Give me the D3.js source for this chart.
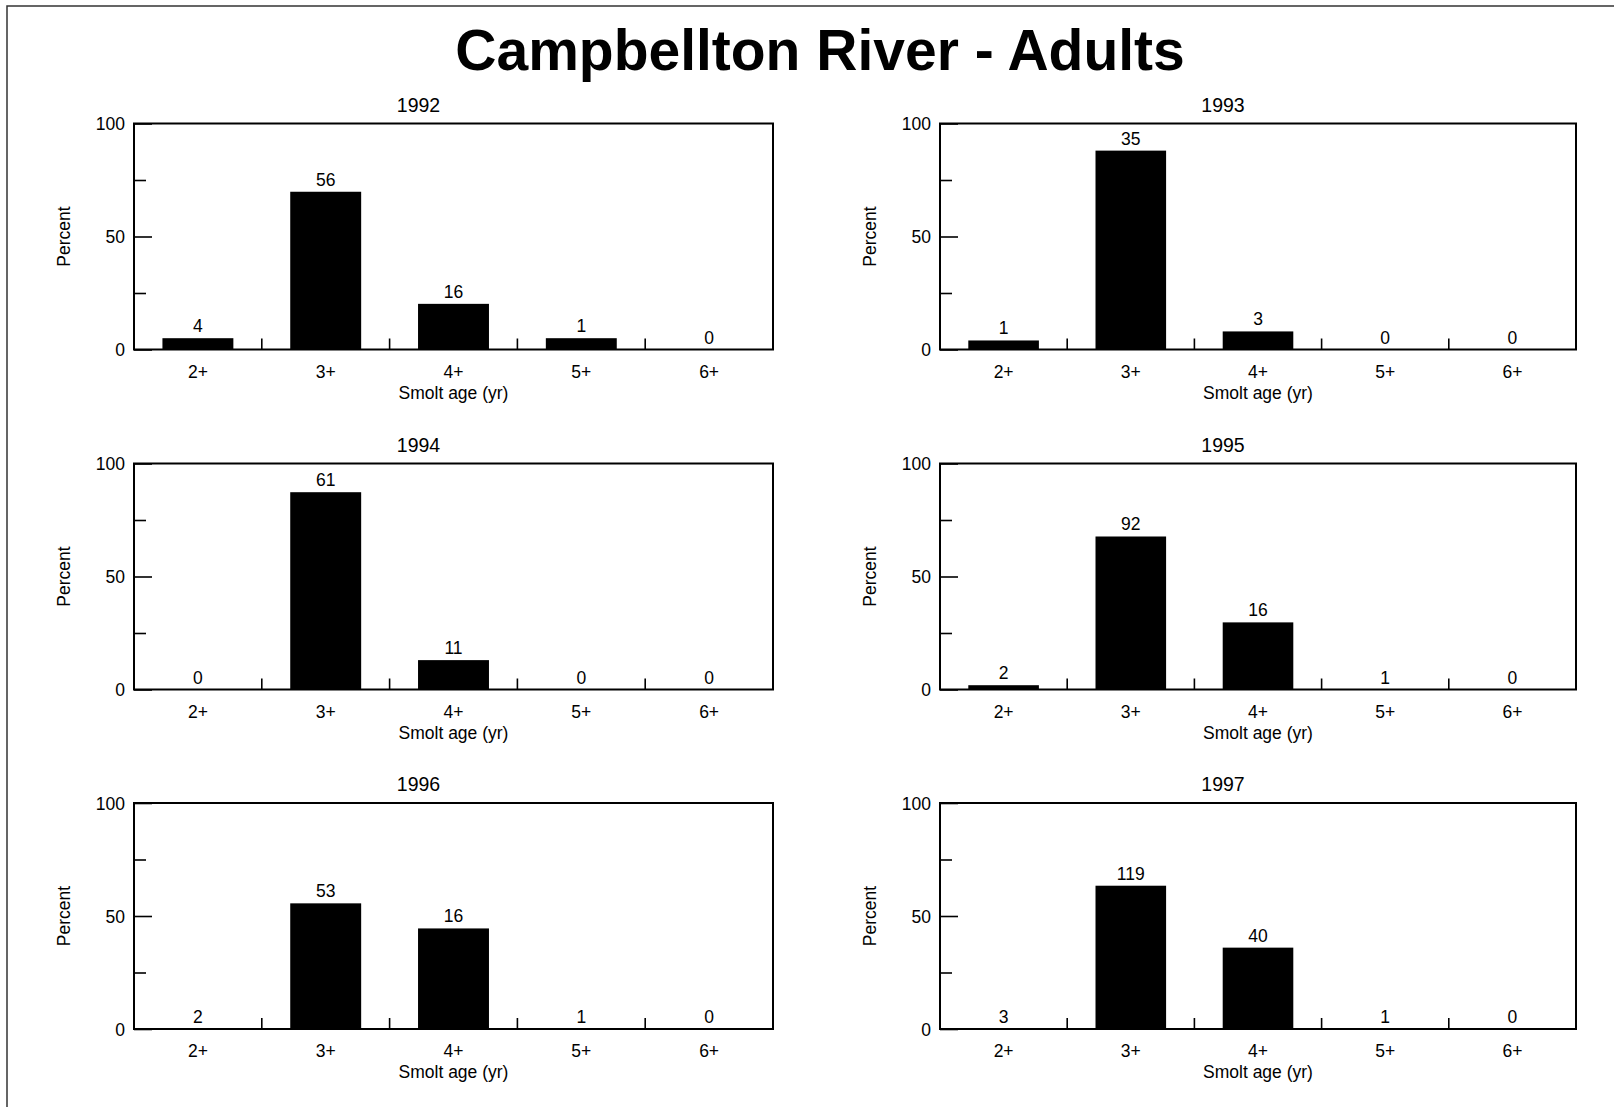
<!DOCTYPE html>
<html>
<head>
<meta charset="utf-8">
<script src="https://cdn.jsdelivr.net/npm/d3@7"></script>
<style>
  html, body { margin: 0; padding: 0; background: #fff; }
  svg { display: block; }
  text { font-family: "Liberation Sans", Arial, Helvetica, sans-serif; fill: #000; }
</style>
</head>
<body>
<svg id="chart" width="1614" height="1107"></svg>
<script>
// Smolt age classes on the x axis
const categories = ["2+", "3+", "4+", "5+", "6+"];
const years = ["1992", "1993", "1994", "1995", "1996", "1997"];

// Percent of adults in each smolt-age class, per year
const pct1992 = [5, 69.8, 20.2, 5, 0];
const pct1993 = [4, 88, 8, 0, 0];
const pct1994 = [0, 87.3, 13, 0, 0];
const pct1995 = [1.9, 67.7, 29.7, 0, 0];
const pct1996 = [0, 55.6, 44.5, 0, 0];
const pct1997 = [0, 63.4, 36, 0, 0];

// Sample counts printed above each class
const n1992 = [4, 56, 16, 1, 0];
const n1993 = [1, 35, 3, 0, 0];
const n1994 = [0, 61, 11, 0, 0];
const n1995 = [2, 92, 16, 1, 0];
const n1996 = [2, 53, 16, 1, 0];
const n1997 = [3, 119, 40, 1, 0];

// Y axis ticks
const yMajorTicks = [0, 50, 100];
const yMinorTicks = [25, 75];

const chartTitle = "Campbellton River - Adults";
const xTitle = "Smolt age (yr)";
const yTitle = "Percent";

const panels = [
  { year: years[0], pct: pct1992, n: n1992 },
  { year: years[1], pct: pct1993, n: n1993 },
  { year: years[2], pct: pct1994, n: n1994 },
  { year: years[3], pct: pct1995, n: n1995 },
  { year: years[4], pct: pct1996, n: n1996 },
  { year: years[5], pct: pct1997, n: n1997 }
];

const svg = d3.select("#chart");

// page frame (left and top edges visible)
svg.append("rect")
  .attr("x", 7).attr("y", 6)
  .attr("width", 1640).attr("height", 1140)
  .attr("fill", "none")
  .attr("stroke", "#333")
  .attr("stroke-width", 1.5);

svg.append("text")
  .attr("x", 820).attr("y", 70)
  .attr("text-anchor", "middle")
  .attr("font-size", 57)
  .attr("font-weight", "bold")
  .text(chartTitle);

const colLeft = [134, 940];
const colWidth = [639, 636];
const rowTop = [123.5, 463.5, 803];
const plotH = 226;
const fs = 17.5;

panels.forEach((p, i) => {
  const col = i % 2, row = Math.floor(i / 2);
  const left = colLeft[col], top = rowTop[row], w = colWidth[col];
  const g = svg.append("g").attr("transform", `translate(${left},${top})`);

  const x = d3.scaleBand().domain(categories).range([0, w]).padding(0);
  const y = d3.scaleLinear().domain([0, 100]).range([plotH, 0]);
  const bw = x.bandwidth();
  const barW = bw * 0.555;

  const rows = categories.map((c, k) => ({ c, v: p.pct[k], n: p.n[k] }));

  // bars
  g.selectAll("rect.bar")
    .data(rows)
    .join("rect")
    .attr("class", "bar")
    .attr("x", d => x(d.c) + (bw - barW) / 2)
    .attr("y", d => y(d.v))
    .attr("width", barW)
    .attr("height", d => y(0) - y(d.v))
    .attr("fill", "#000");

  // count labels
  g.selectAll("text.count")
    .data(rows)
    .join("text")
    .attr("class", "count")
    .attr("x", d => x(d.c) + bw / 2)
    .attr("y", d => y(d.v) - 6)
    .attr("text-anchor", "middle")
    .attr("font-size", fs)
    .text(d => d.n);

  // y ticks inside the frame
  const major = g.append("g").call(d3.axisRight(y).tickValues(yMajorTicks).tickSize(18).tickFormat(""));
  const minor = g.append("g").call(d3.axisRight(y).tickValues(yMinorTicks).tickSize(12).tickFormat(""));
  [major, minor].forEach(a => {
    a.select(".domain").remove();
    a.selectAll("line").attr("stroke", "#000").attr("stroke-width", 1.6);
  });

  // y tick labels
  const yl = g.append("g").call(d3.axisLeft(y).tickValues(yMajorTicks).tickSize(0).tickPadding(9));
  yl.select(".domain").remove();
  yl.selectAll("text").attr("font-size", fs).attr("font-family", null).attr("dy", "0.36em");

  // x category labels
  const xl = g.append("g").attr("transform", `translate(0,${plotH})`)
    .call(d3.axisBottom(x).tickSize(0).tickPadding(16));
  xl.select(".domain").remove();
  xl.selectAll("text").attr("font-size", fs).attr("font-family", null);

  // x boundary ticks between classes
  g.selectAll("line.xb")
    .data(categories.slice(1))
    .join("line")
    .attr("class", "xb")
    .attr("x1", d => x(d)).attr("x2", d => x(d))
    .attr("y1", plotH).attr("y2", plotH - 11)
    .attr("stroke", "#000").attr("stroke-width", 1.6);

  // plot frame
  g.append("rect")
    .attr("x", 0).attr("y", 0)
    .attr("width", w).attr("height", plotH)
    .attr("fill", "none")
    .attr("stroke", "#000")
    .attr("stroke-width", 2);

  // axis titles
  g.append("text")
    .attr("x", w / 2).attr("y", plotH + 49)
    .attr("text-anchor", "middle")
    .attr("font-size", fs)
    .text(xTitle);

  g.append("text")
    .attr("transform", `translate(-70,${y(50)}) rotate(-90)`)
    .attr("text-anchor", "middle")
    .attr("dy", "0.36em")
    .attr("font-size", fs)
    .text(yTitle);

  // panel title, centred over the panel including its y-axis area
  g.append("text")
    .attr("x", (w - 70) / 2).attr("y", -12)
    .attr("text-anchor", "middle")
    .attr("font-size", 19.5)
    .text(p.year);
});
</script>
</body>
</html>
